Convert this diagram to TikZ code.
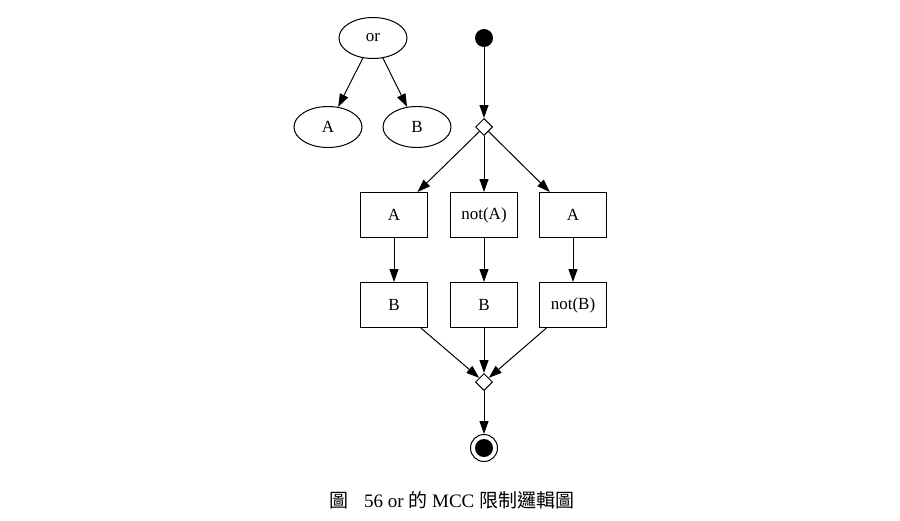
\documentclass[tikz,border=0pt]{standalone}
\usepackage{fontspec}
\setmainfont{Liberation Serif}
\newfontfamily\cjk{Noto Sans CJK TC}
\usetikzlibrary{shapes.geometric,arrows.meta}
\begin{document}
\begin{tikzpicture}[x=1pt,y=-1pt,
  every node/.style={font=\fontsize{17}{20}\selectfont},
  ell/.style={draw,line width=1pt,ellipse,minimum width=68pt,minimum height=41pt,inner sep=0pt},
  box/.style={draw,line width=1pt,rectangle,minimum width=67pt,minimum height=45pt,inner sep=0pt},
  dia/.style={draw,line width=1pt,diamond,minimum width=17pt,minimum height=17pt,inner sep=0pt,fill=white},
  arr/.style={line width=1pt,-{Triangle[length=13pt,width=9pt]}}]
\useasboundingbox (0,0) rectangle (900,520);
\node[ell] (or) at (373,38) {or};
\node[ell] (ea) at (328,127) {A};
\node[ell] (eb) at (417,127) {B};
\draw[arr] (or) -- (ea);
\draw[arr] (or) -- (eb);

\node[circle,fill=black,minimum size=18pt,inner sep=0pt] (start) at (484,38) {};
\node[dia] (fork) at (484,127) {};
\node[box] (a1) at (394,215) {A};
\node[box] (a2) at (484,215) {not(A)};
\node[box] (a3) at (573,215) {A};
\node[box] (b1) at (394,305) {B};
\node[box] (b2) at (484,305) {B};
\node[box] (b3) at (573,305) {not(B)};
\node[dia] (join) at (484,382) {};
\node[circle,draw,line width=1pt,minimum size=27pt,inner sep=0pt] (end) at (484,448) {};
\node[circle,fill=black,minimum size=18pt,inner sep=0pt] (endin) at (484,448) {};

\draw[arr] (start) -- (fork);
\draw[arr] (fork) -- (a1);
\draw[arr] (fork) -- (a2);
\draw[arr] (fork) -- (a3);
\draw[arr] (a1) -- (b1);
\draw[arr] (a2) -- (b2);
\draw[arr] (a3) -- (b3);
\draw[arr] (b1) -- (join);
\draw[arr] (b2) -- (join);
\draw[arr] (b3) -- (join);
\draw[arr] (join) -- (end);

\node[font=\fontsize{19}{22}\selectfont] (cap) at (452,500) {{\cjk 圖}\hspace{0.8em}56 or {\cjk 的} MCC {\cjk 限制邏輯圖}};
\end{tikzpicture}
\end{document}
